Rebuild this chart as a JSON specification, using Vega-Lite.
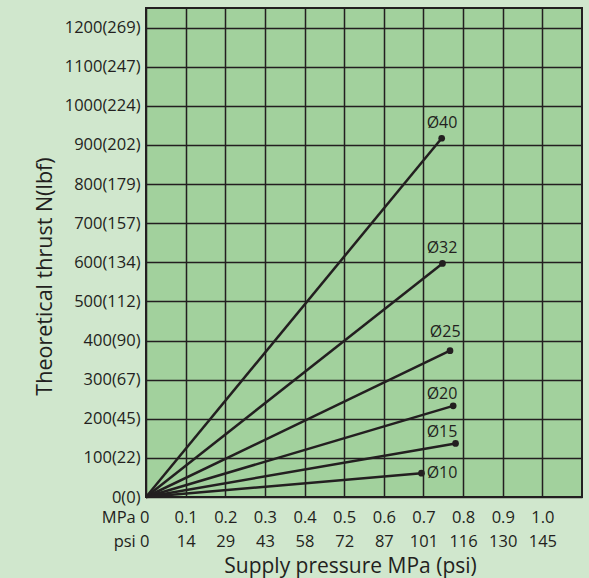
{
  "$schema": "https://vega.github.io/schema/vega-lite/v6.json",
  "width": 436,
  "height": 489,
  "autosize": "none",
  "padding": {"left": 146, "top": 8, "right": 7, "bottom": 81},
  "background": "#d0e7cd",
  "config": {
    "font": "Open Sans",
    "view": {"fill": "#a2d19d", "stroke": "#231f20", "strokeWidth": 2}
  },
  "datasets": {
    "lines": [
      {"bore": "Ø40", "p": 0, "f": 0}, {"bore": "Ø40", "p": 0.746, "f": 917},
      {"bore": "Ø32", "p": 0, "f": 0}, {"bore": "Ø32", "p": 0.748, "f": 597},
      {"bore": "Ø25", "p": 0, "f": 0}, {"bore": "Ø25", "p": 0.767, "f": 374},
      {"bore": "Ø20", "p": 0, "f": 0}, {"bore": "Ø20", "p": 0.775, "f": 233},
      {"bore": "Ø15", "p": 0, "f": 0}, {"bore": "Ø15", "p": 0.781, "f": 137},
      {"bore": "Ø10", "p": 0, "f": 0}, {"bore": "Ø10", "p": 0.695, "f": 61}
    ],
    "labels": [
      {"bore": "Ø40", "lx": 0.708, "ly": 956},
      {"bore": "Ø32", "lx": 0.708, "ly": 636},
      {"bore": "Ø25", "lx": 0.716, "ly": 422},
      {"bore": "Ø20", "lx": 0.708, "ly": 263},
      {"bore": "Ø15", "lx": 0.708, "ly": 166},
      {"bore": "Ø10", "lx": 0.708, "ly": 61}
    ]
  },
  "layer": [
    {
      "data": {"name": "lines"},
      "mark": {"type": "line", "color": "#231f20", "strokeWidth": 2.5},
      "encoding": {
        "x": {
          "field": "p", "type": "quantitative",
          "scale": {"domain": [0, 1.1], "nice": false, "zero": false},
          "axis": {
            "values": [0, 0.1, 0.2, 0.3, 0.4, 0.5, 0.6, 0.7, 0.8, 0.9, 1.0],
            "labelExpr": "[['MPa  0','psi   0'],['0.1','14'],['0.2','29'],['0.3','43'],['0.4','58'],['0.5','72'],['0.6','87'],['0.7','101'],['0.8','116'],['0.9','130'],['1.0','145']][round(datum.value*10)]",
            "labelAlign": {"condition": {"test": "datum.value == 0", "value": "right"}, "value": "center"},
            "labelOffset": {"condition": {"test": "datum.value == 0", "value": 3}, "value": 0},
            "labelFlush": false,
            "labelOverlap": false,
            "labelFontSize": 16.5,
            "labelColor": "#231f20",
            "labelPadding": 12,
            "labelLineHeight": 24,
            "ticks": false,
            "domain": false,
            "grid": true,
            "gridColor": "#231f20",
            "gridWidth": 1.5,
            "gridOpacity": 1,
            "title": "Supply pressure MPa (psi)",
            "titleFontSize": 21,
            "titleFontWeight": "normal",
            "titleColor": "#231f20",
            "titleX": 204,
            "titleY": 75,
            "titleBaseline": "alphabetic"
          }
        },
        "y": {
          "field": "f", "type": "quantitative",
          "scale": {"domain": [0, 1250], "nice": false},
          "axis": {
            "values": [0, 100, 200, 300, 400, 500, 600, 700, 800, 900, 1000, 1100, 1200],
            "labelExpr": "['0(0)','100(22)','200(45)','300(67)','400(90)','500(112)','600(134)','700(157)','800(179)','900(202)','1000(224)','1100(247)','1200(269)'][round(datum.value/100)]",
            "labelFontSize": 16.5,
            "labelColor": "#231f20",
            "labelPadding": 6,
            "labelOverlap": false,
            "labelFlush": false,
            "ticks": false,
            "domain": false,
            "grid": true,
            "gridColor": "#231f20",
            "gridWidth": 1.5,
            "gridOpacity": 1,
            "title": "Theoretical thrust N(lbf)",
            "titleFontSize": 21.5,
            "titleFontWeight": "normal",
            "titleColor": "#231f20",
            "titleX": -101,
            "titleY": 268,
            "titleBaseline": "middle",
            "titleAlign": "center",
            "titleAngle": -90
          }
        },
        "detail": {"field": "bore"}
      }
    },
    {
      "data": {"name": "lines"},
      "transform": [{"filter": "datum.p > 0"}],
      "mark": {"type": "circle", "size": 45, "color": "#231f20", "opacity": 1},
      "encoding": {
        "x": {"field": "p", "type": "quantitative"},
        "y": {"field": "f", "type": "quantitative"}
      }
    },
    {
      "data": {"name": "labels"},
      "mark": {"type": "text", "align": "left", "baseline": "middle", "fontSize": 16, "color": "#231f20"},
      "encoding": {
        "x": {"field": "lx", "type": "quantitative"},
        "y": {"field": "ly", "type": "quantitative"},
        "text": {"field": "bore"}
      }
    }
  ]
}
